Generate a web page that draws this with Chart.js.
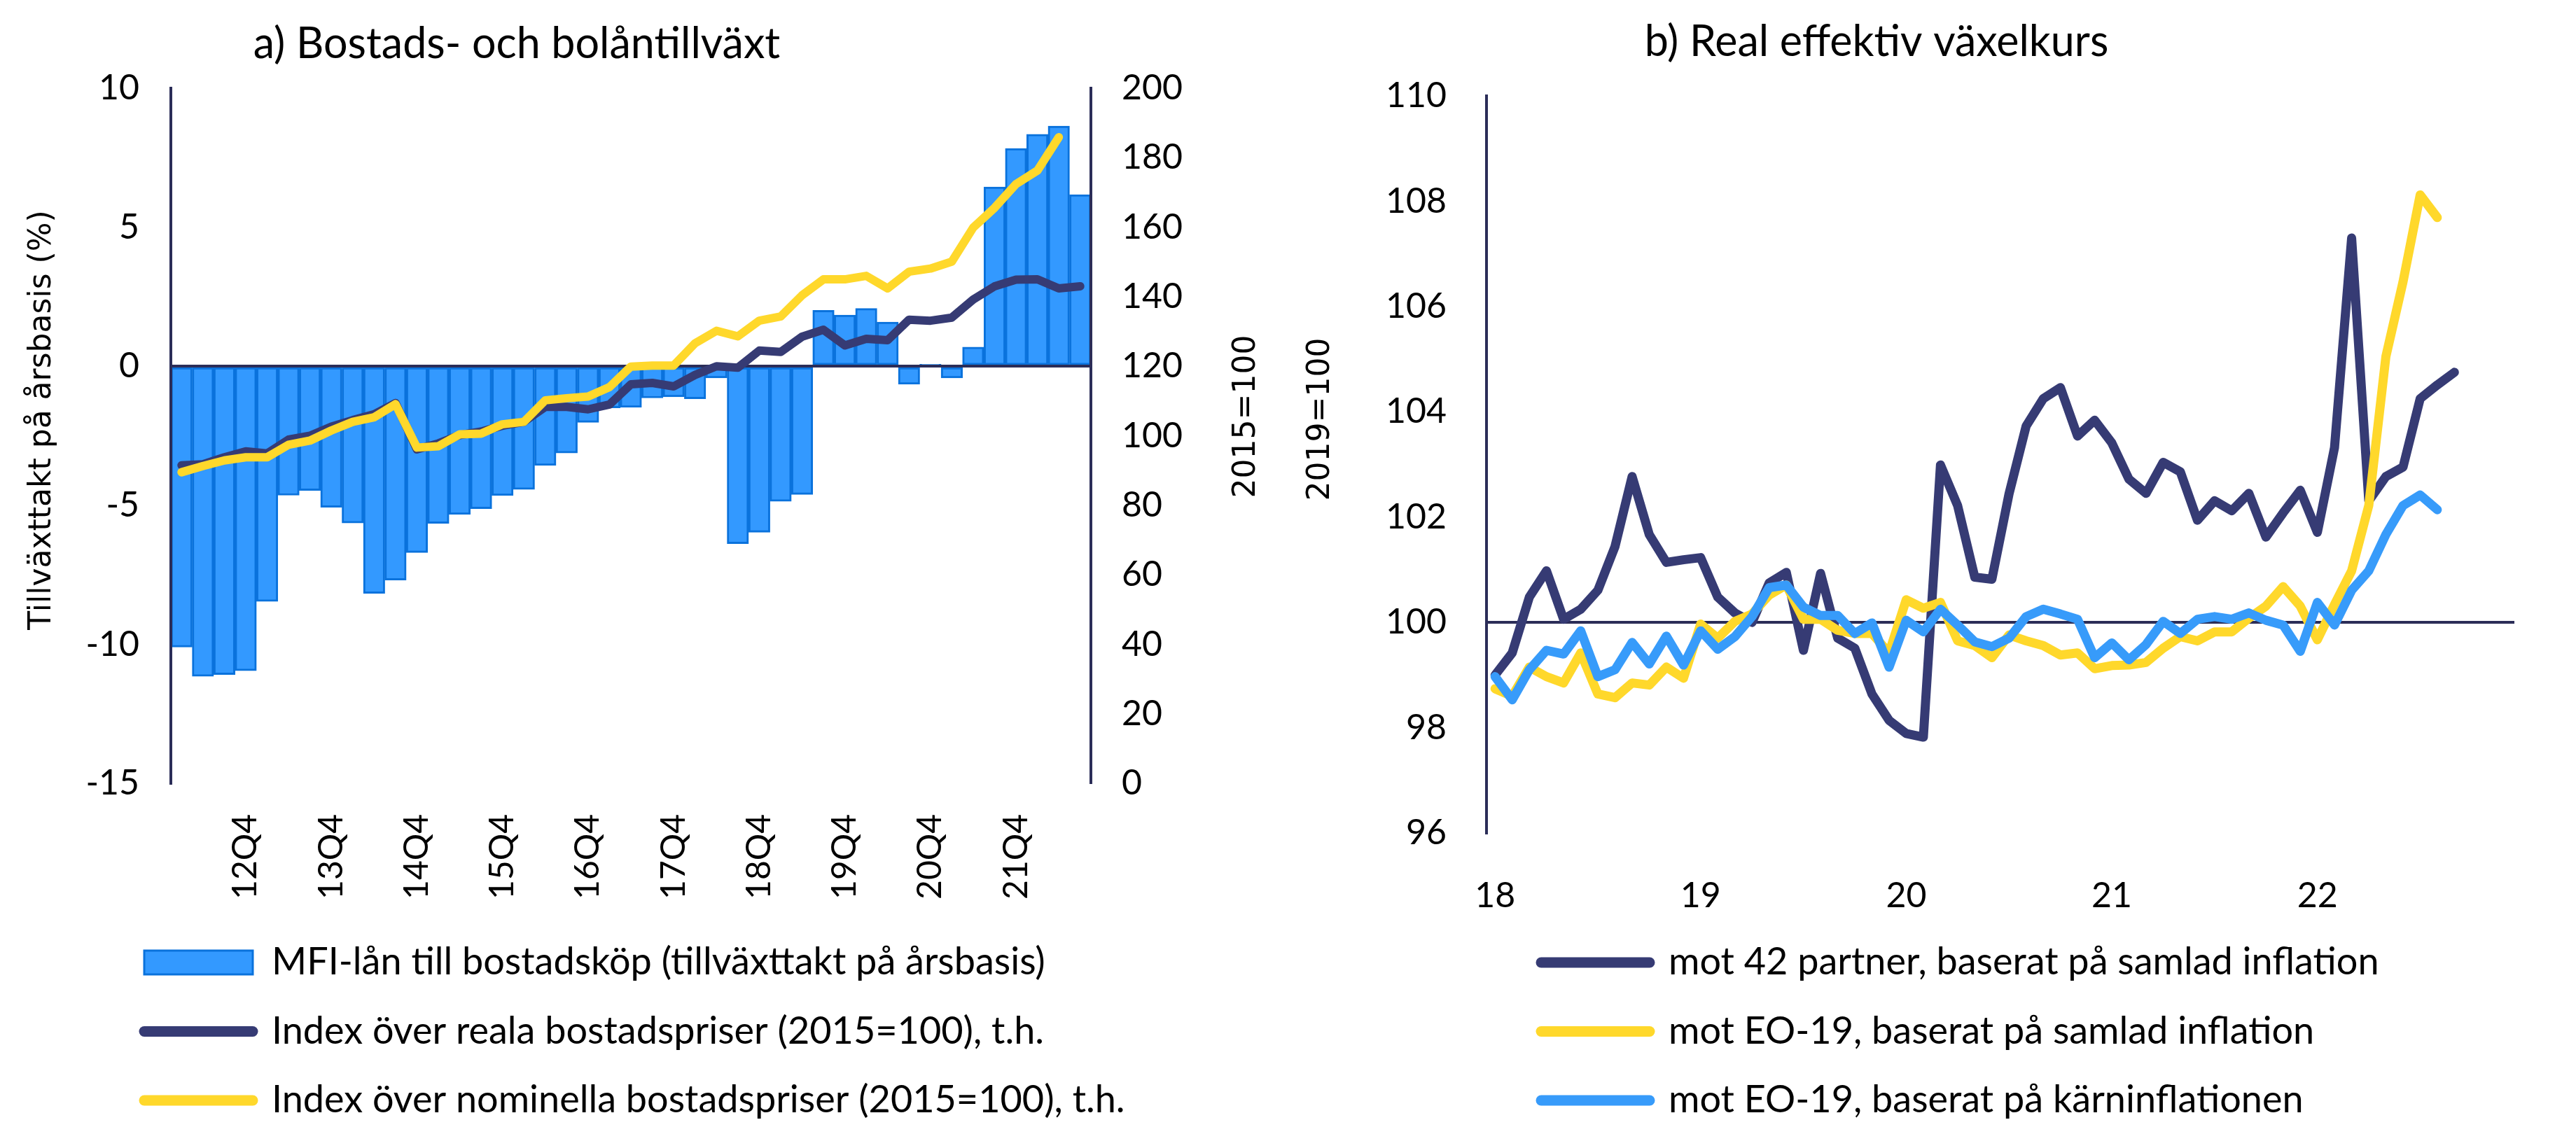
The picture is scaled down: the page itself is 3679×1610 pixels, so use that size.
<!DOCTYPE html>
<html><head><meta charset="utf-8">
<script src="https://cdn.jsdelivr.net/npm/chart.js@4.4.1/dist/chart.umd.min.js"></script>
<style>
html,body{margin:0;padding:0;background:#fff;width:3679px;height:1610px;overflow:hidden}
#wa{position:absolute;left:0;top:0;width:1840px;height:1610px}
#wb{position:absolute;left:1840px;top:0;width:1839px;height:1610px}
</style></head><body>
<div id="wa"><canvas id="ca" width="1840" height="1610"></canvas></div>
<div id="wb"><canvas id="cb" width="1839" height="1610"></canvas></div>
<script>
// ---------- Panel a data ----------
const quarterLabels = ['12Q1','12Q2','12Q3','12Q4','13Q1','13Q2','13Q3','13Q4','14Q1','14Q2','14Q3','14Q4',
  '15Q1','15Q2','15Q3','15Q4','16Q1','16Q2','16Q3','16Q4','17Q1','17Q2','17Q3','17Q4','18Q1','18Q2','18Q3','18Q4',
  '19Q1','19Q2','19Q3','19Q4','20Q1','20Q2','20Q3','20Q4','21Q1','21Q2','21Q3','21Q4','22Q1','22Q2','22Q3'];
const quarterTickLabels = ['12Q4','13Q4','14Q4','15Q4','16Q4','17Q4','18Q4','19Q4','20Q4','21Q4'];
const mfiLoanGrowth = [-10.1,-11.15,-11.09,-10.95,-8.46,-4.64,-4.47,-5.07,-5.64,-8.17,-7.69,-6.70,
  -5.65,-5.33,-5.12,-4.65,-4.43,-3.57,-3.12,-2.02,-1.5,-1.48,-1.14,-1.1,-1.17,-0.42,-6.38,-5.97,
  -4.86,-4.61,2.01,1.84,2.08,1.59,-0.65,0.07,-0.42,0.69,6.45,7.83,8.34,8.64,6.17];
const realHousePrices = [91.5,91.8,93.8,95.5,94.9,98.9,100.0,102.6,104.5,106.2,109.4,96.1,
  97.8,100.2,101.2,102.9,104.0,108.3,108.3,107.6,109.0,114.8,115.2,114.2,117.5,120.0,119.6,124.5,
  124.1,128.5,130.5,126.0,127.9,127.5,133.4,133.1,134.0,139.2,143.0,144.9,145.0,142.4,143.0];
const nominalHousePrices = [89.5,91.3,92.9,93.8,93.8,97.4,98.6,101.5,104.0,105.3,109.1,96.6,
  97.0,100.4,100.6,103.3,104.0,110.2,110.8,111.3,114.0,119.9,120.2,120.2,126.6,130.2,128.6,133.1,
  134.3,140.4,145.0,145.0,146.0,142.4,147.2,148.1,150.1,159.9,165.6,172.4,176.3,185.9,null];

// ---------- Panel b data ----------
const monthLabels = ['2018-01','2018-02','2018-03','2018-04','2018-05','2018-06','2018-07','2018-08','2018-09','2018-10','2018-11','2018-12',
  '2019-01','2019-02','2019-03','2019-04','2019-05','2019-06','2019-07','2019-08','2019-09','2019-10','2019-11','2019-12',
  '2020-01','2020-02','2020-03','2020-04','2020-05','2020-06','2020-07','2020-08','2020-09','2020-10','2020-11','2020-12',
  '2021-01','2021-02','2021-03','2021-04','2021-05','2021-06','2021-07','2021-08','2021-09','2021-10','2021-11','2021-12',
  '2022-01','2022-02','2022-03','2022-04','2022-05','2022-06','2022-07','2022-08','2022-09','2022-10','2022-11','2022-12'];
const yearTickMonths = ['2018-01','2019-01','2020-01','2021-01','2022-01'];
const yearTickLabels = ['18','19','20','21','22'];
const kix42Total = [99.0,99.42,100.48,100.98,100.06,100.25,100.61,101.44,102.77,101.67,101.14,101.19,
  101.23,100.48,100.18,100.0,100.75,100.95,99.47,100.93,99.70,99.51,98.64,98.14,
  97.89,97.82,102.99,102.22,100.86,100.82,102.44,103.73,104.25,104.46,103.54,103.84,
  103.41,102.72,102.45,103.04,102.86,101.94,102.31,102.12,102.45,101.62,102.08,102.51,
  101.71,103.32,107.30,102.31,102.77,102.95,104.25,104.51,104.75];
const eo19Total = [98.74,98.60,99.15,98.97,98.85,99.42,98.64,98.57,98.85,98.81,99.15,98.94,
  99.97,99.70,100.02,100.16,100.52,100.71,100.06,100.06,99.85,99.79,99.79,99.42,
  100.43,100.27,100.38,99.65,99.56,99.33,99.76,99.65,99.56,99.38,99.42,99.12,
  99.18,99.19,99.24,99.51,99.73,99.65,99.82,99.82,100.08,100.31,100.68,100.31,
  99.67,100.34,100.98,102.22,105.05,106.47,108.12,107.69];
const eo19Core = [98.97,98.53,99.10,99.47,99.40,99.84,98.97,99.10,99.62,99.21,99.74,99.19,
  99.84,99.49,99.73,100.11,100.66,100.71,100.29,100.13,100.13,99.79,99.99,99.15,
  100.04,99.82,100.25,99.95,99.63,99.54,99.70,100.11,100.25,100.16,100.06,99.33,
  99.61,99.29,99.58,100.02,99.79,100.06,100.11,100.06,100.18,100.04,99.95,99.45,
  100.38,99.95,100.61,100.98,101.67,102.22,102.42,102.14];

// ---------- styles ----------
const NAVY = '#363B74', YELLOW = '#FFD82B', BAR_FILL = '#3399FF', BAR_EDGE = '#0A72DC', LBLUE = '#379BFA';
const AXIS = '#2B2D58';
const FONT = 'Lato, "Open Sans", sans-serif';
const AXFONT = '"DejaVu Sans", Verdana, sans-serif';
Chart.defaults.font.family = FONT;
Chart.defaults.color = '#000';

const rotatedTitles = {
  id: 'rotatedTitles',
  afterDraw(chart, args, opts) {
    const ctx = chart.ctx;
    (opts.items || []).forEach(it => {
      ctx.save();
      ctx.translate(it.x, it.y);
      ctx.rotate(-Math.PI / 2);
      ctx.font = it.font;
      ctx.fillStyle = '#000';
      ctx.textAlign = 'center';
      ctx.textBaseline = 'middle';
      ctx.fillText(it.text, 0, 0);
      ctx.restore();
    });
  }
};
const placeBlocks = {
  id: 'placeBlocks',
  afterLayout(chart, args, opts) {
    const t = chart.titleBlock;
    if (t && opts.titleCenterX != null) {
      const w = t.right - t.left;
      t.left = opts.titleCenterX - w / 2; t.right = t.left + w;
    }
    const lg = chart.legend;
    if (lg && opts.legendLeft != null) {
      lg.left = opts.legendLeft; lg.right = lg.left + opts.legendWidth; lg.width = opts.legendWidth;
      lg.top = opts.legendTop; lg.bottom = lg.top + opts.legendHeight; lg.height = opts.legendHeight;
    }
  }
};
// redraw zero line / axis borders above bars but below lines
const gridOverBars = {
  id: 'gridOverBars',
  afterDatasetDraw(chart, args) {
    if (args.meta.type === 'bar') {
      const s = chart.scales.y;
      s.drawGrid(chart.chartArea);
      s.drawBorder();
      chart.scales.y2.drawBorder();
    }
  }
};

function legendLabels(chart) {
  return Chart.defaults.plugins.legend.labels.generateLabels(chart).map(l => {
    const ds = chart.data.datasets[l.datasetIndex];
    if (ds.type === 'bar') { l.lineWidth = 3; l.pointStyle = 'rect'; }
    else { l.lineWidth = 15; l.pointStyle = 'line'; l.lineCap = 'round'; }
    return l;
  });
}
const legendCommon = {
  position: 'chartArea',
  align: 'start',
  labels: {
    usePointStyle: true, pointStyleWidth: 155, boxHeight: 34, padding: 44.5,
    font: { size: 54, family: FONT }, color: '#000',
    generateLabels: legendLabels,
    sort: (a, b) => a.datasetIndex - b.datasetIndex
  }
};

// ---------- Chart a ----------
new Chart(document.getElementById('ca'), {
  data: {
    labels: quarterLabels,
    datasets: [
      { type: 'bar', label: 'MFI-lån till bostadsköp (tillväxttakt på årsbasis)', data: mfiLoanGrowth,
        backgroundColor: BAR_FILL, borderColor: BAR_EDGE, borderWidth: 3, borderSkipped: false,
        barPercentage: 1, categoryPercentage: 1, yAxisID: 'y', order: 2 },
      { type: 'line', label: 'Index över reala bostadspriser (2015=100), t.h.', data: realHousePrices,
        borderColor: NAVY, backgroundColor: NAVY, borderWidth: 12, pointRadius: 0, tension: 0,
        borderCapStyle: 'round', borderJoinStyle: 'round', yAxisID: 'y2', order: 1 },
      { type: 'line', label: 'Index över nominella bostadspriser (2015=100), t.h.', data: nominalHousePrices,
        borderColor: YELLOW, backgroundColor: YELLOW, borderWidth: 12, pointRadius: 0, tension: 0,
        borderCapStyle: 'round', borderJoinStyle: 'round', yAxisID: 'y2', order: 0 }
    ]
  },
  options: {
    responsive: false, devicePixelRatio: 1, animation: false,
    layout: { padding: 0 },
    scales: {
      x: {
        type: 'category', offset: true,
        grid: { display: false }, border: { display: false },
        ticks: {
          autoSkip: false, minRotation: 90, maxRotation: 90, padding: 36,
          font: { size: 48 }, color: '#000',
          callback(v) { const l = this.getLabelForValue(v); return quarterTickLabels.includes(l) ? l : ''; }
        },
        afterFit(s) { s.height = 491; }
      },
      y: {
        position: 'left', min: -15, max: 10,
        ticks: { stepSize: 5, padding: 45, font: { size: 50 }, color: '#000' },
        grid: { drawTicks: false, lineWidth: 4, color: c => (c.tick && c.tick.value === 0) ? AXIS : 'rgba(0,0,0,0)' },
        border: { display: true, color: AXIS, width: 4 },
        afterFit(s) { s.width = 244; }
      },
      y2: {
        position: 'right', min: 0, max: 200,
        ticks: { stepSize: 20, padding: 44, font: { size: 50 }, color: '#000' },
        grid: { display: false, drawTicks: false },
        border: { display: true, color: AXIS, width: 4 },
        afterFit(s) { s.width = 282; }
      }
    },
    plugins: {
      title: { display: true, text: 'a) Bostads- och bolåntillväxt', color: '#000',
        font: { size: 61, weight: 'normal', family: FONT }, padding: { top: 26.4, bottom: 26.4 } },
      legend: legendCommon,
      tooltip: { enabled: false },
      placeBlocks: { titleCenterX: 738, legendLeft: 161.5, legendTop: 1303.5, legendWidth: 1650, legendHeight: 420 },
      rotatedTitles: { items: [
        { text: 'Tillväxttakt på årsbasis (%)', x: 61, y: 600, font: '44px ' + AXFONT },
        { text: '2015=100', x: 1781, y: 595, font: '44px ' + AXFONT }
      ] }
    }
  },
  plugins: [placeBlocks, rotatedTitles, gridOverBars]
});

// ---------- Chart b ----------
new Chart(document.getElementById('cb'), {
  type: 'line',
  data: {
    labels: monthLabels,
    datasets: [
      { label: 'mot 42 partner, baserat på samlad inflation', data: kix42Total, borderColor: NAVY, backgroundColor: NAVY,
        borderWidth: 13, pointRadius: 0, tension: 0, borderCapStyle: 'round', borderJoinStyle: 'round', order: 2 },
      { label: 'mot EO-19, baserat på samlad inflation', data: eo19Total, borderColor: YELLOW, backgroundColor: YELLOW,
        borderWidth: 13, pointRadius: 0, tension: 0, borderCapStyle: 'round', borderJoinStyle: 'round', order: 1 },
      { label: 'mot EO-19, baserat på kärninflationen', data: eo19Core, borderColor: LBLUE, backgroundColor: LBLUE,
        borderWidth: 13, pointRadius: 0, tension: 0, borderCapStyle: 'round', borderJoinStyle: 'round', order: 0 }
    ]
  },
  options: {
    responsive: false, devicePixelRatio: 1, animation: false,
    layout: { padding: { right: 88 } },
    scales: {
      x: {
        type: 'category', offset: true,
        grid: { display: false }, border: { display: false },
        ticks: {
          autoSkip: false, maxRotation: 0, minRotation: 0, padding: 52,
          font: { size: 50 }, color: '#000',
          callback(v) { const i = yearTickMonths.indexOf(this.getLabelForValue(v)); return i >= 0 ? yearTickLabels[i] : ''; }
        },
        afterFit(s) { s.height = 420; }
      },
      y: {
        min: 96, max: 110,
        ticks: { stepSize: 2, padding: 57, font: { size: 50 }, color: '#000' },
        grid: { drawTicks: false, lineWidth: 4, color: c => (c.tick && c.tick.value === 100) ? AXIS : 'rgba(0,0,0,0)' },
        border: { display: true, color: AXIS, width: 4 },
        afterFit(s) { s.width = 283; }
      }
    },
    plugins: {
      title: { display: true, text: 'b) Real effektiv växelkurs', color: '#000',
        font: { size: 61, weight: 'normal', family: FONT }, padding: { top: 23.4, bottom: 40.4 } },
      legend: legendCommon,
      tooltip: { enabled: false },
      placeBlocks: { titleCenterX: 840, legendLeft: 316.5, legendTop: 1303.5, legendWidth: 1500, legendHeight: 420 },
      rotatedTitles: { items: [
        { text: '2019=100', x: 47, y: 599, font: '44px ' + AXFONT }
      ] }
    }
  },
  plugins: [placeBlocks, rotatedTitles]
});
</script></body></html>
